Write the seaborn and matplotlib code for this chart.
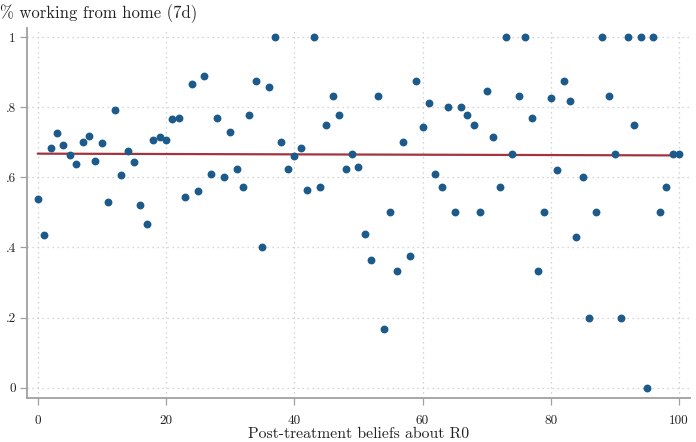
import matplotlib
matplotlib.use("Agg")
import matplotlib.pyplot as plt
import seaborn as sns
import pandas as pd

# binned beliefs about R0 (x) and share working from home over 7 days (y)
beliefs = [0, 1, 2, 3, 4, 5, 6, 7, 8, 9, 10, 11, 12, 13, 14, 15, 16, 17, 18, 19,
           20, 21, 22, 23, 24, 25, 26, 27, 28, 29, 30, 31, 32, 33, 34, 35, 36, 37, 38, 39,
           40, 41, 42, 43, 44, 45, 46, 47, 48, 49, 50, 51, 52, 53, 54, 55, 56, 57, 58, 59,
           60, 61, 62, 63, 64, 65, 66, 67, 68, 69, 70, 71, 72, 73, 74, 75, 76, 77, 78, 79,
           80, 81, 82, 83, 84, 85, 86, 87, 88, 89, 90, 91, 92, 93, 94, 95, 96, 97, 98, 99,
           100]
wfh_share = [0.539, 0.435, 0.683, 0.728, 0.694, 0.663, 0.639, 0.702, 0.718, 0.647,
             0.698, 0.531, 0.793, 0.606, 0.675, 0.643, 0.521, 0.466, 0.706, 0.716,
             0.708, 0.766, 0.769, 0.545, 0.867, 0.562, 0.889, 0.611, 0.769, 0.600,
             0.730, 0.625, 0.572, 0.779, 0.876, 0.400, 0.858, 1.000, 0.701, 0.625,
             0.662, 0.685, 0.563, 1.000, 0.572, 0.750, 0.834, 0.778, 0.625, 0.667,
             0.629, 0.438, 0.364, 0.834, 0.166, 0.500, 0.334, 0.701, 0.375, 0.876,
             0.744, 0.813, 0.611, 0.572, 0.800, 0.500, 0.800, 0.778, 0.750, 0.500,
             0.847, 0.715, 0.572, 1.000, 0.667, 0.834, 1.000, 0.769, 0.334, 0.500,
             0.828, 0.620, 0.876, 0.819, 0.429, 0.600, 0.200, 0.500, 1.000, 0.834,
             0.667, 0.200, 1.000, 0.750, 1.000, 0.000, 1.000, 0.500, 0.572, 0.667,
             0.667]

# linear fit line end points
fit_x = [0, 100]
fit_y = [0.668, 0.663]

x_ticks = [0, 20, 40, 60, 80, 100]
y_ticks = [0, 0.2, 0.4, 0.6, 0.8, 1.0]
y_tick_labels = ["0", ".2", ".4", ".6", ".8", "1"]

sns.set_theme(style="white")
plt.rcParams["font.family"] = ["cmr10", "DejaVu Serif"]
plt.rcParams["mathtext.fontset"] = "cm"
plt.rcParams["axes.formatter.use_mathtext"] = True

df = pd.DataFrame({"belief": beliefs, "wfh": wfh_share})
fit_df = pd.DataFrame({"belief": fit_x, "wfh": fit_y})

fig = plt.figure(figsize=(6.96, 4.42), dpi=100)
ax = fig.add_axes([0.0388, 0.0995, 0.9526, 0.8372])

sns.lineplot(data=fit_df, x="belief", y="wfh", color="#a3343f", linewidth=1.6, ax=ax, zorder=2)
sns.scatterplot(data=df, x="belief", y="wfh", color="#1c5a8c", s=32, linewidth=0, ax=ax, zorder=3)

ax.set_xlim(-1.67, 101.7)
ax.set_ylim(-0.03, 1.027)
ax.set_xticks(x_ticks)
ax.set_xticklabels([str(t) for t in x_ticks])
ax.set_yticks(y_ticks)
ax.set_yticklabels(y_tick_labels)

ax.grid(True, color="#c8c8c8", linestyle=(0, (1, 3)), linewidth=0.9)
for side in ["top", "right"]:
    ax.spines[side].set_visible(False)
for side in ["left", "bottom"]:
    ax.spines[side].set_color("#a0a0a0")
    ax.spines[side].set_linewidth(1.3)

ax.tick_params(axis="both", which="major", direction="out", length=5, width=0.9,
               color="#a0a0a0", labelsize=9.5, labelcolor="#222222", pad=3,
               bottom=True, left=True)
ax.tick_params(axis="x", pad=7)

ax.set_xlabel("Post-treatment beliefs about R0", fontsize=11.3, color="#222222", labelpad=0)
ax.set_ylabel("")
fig.text(0.0, 0.97, "% working from home (7d)", fontsize=12, color="#222222",
         ha="left", va="center")

fig.savefig("out.png", dpi=100)
